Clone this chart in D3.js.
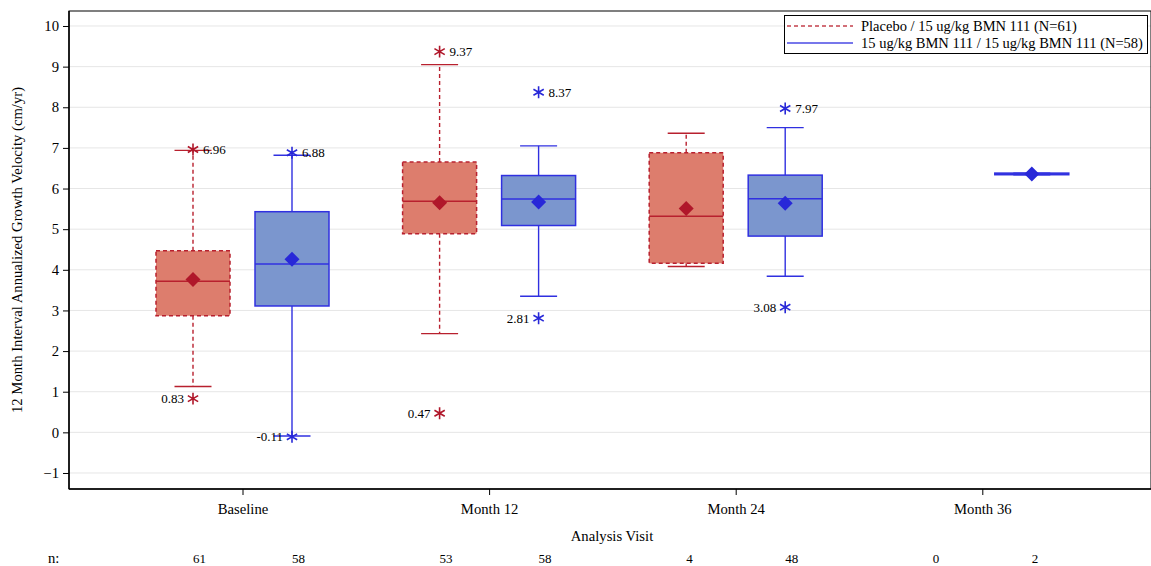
<!DOCTYPE html>
<html>
<head>
<meta charset="utf-8">
<script src="https://cdn.jsdelivr.net/npm/d3@7"></script>
<style>
  html, body { margin: 0; padding: 0; background: #fff; }
  svg { display: block; font-family: "Liberation Serif", "Times New Roman", serif; }
</style>
</head>
<body>
<svg id="chart" width="1151" height="566"></svg>
<script>
// Visits and treatment groups
const visits = ["Baseline", "Month 12", "Month 24", "Month 36"];
const groups = [
  "Placebo / 15 ug/kg BMN 111 (N=61)",
  "15 ug/kg BMN 111 / 15 ug/kg BMN 111 (N=58)"
];

// Box statistics per visit (cm/yr); null = no subjects
const placeboLow    = [1.13, 2.43, 4.08, null];
const placeboQ1     = [2.87, 4.89, 4.16, null];
const placeboMedian = [3.72, 5.69, 5.32, null];
const placeboQ3     = [4.47, 6.65, 6.88, null];
const placeboHigh   = [6.94, 9.05, 7.36, null];
const placeboMean   = [3.76, 5.65, 5.51, null];

const activeLow     = [-0.09, 3.35, 3.84, 6.34];
const activeQ1      = [3.11, 5.09, 4.83, 6.34];
const activeMedian  = [4.14, 5.74, 5.75, 6.36];
const activeQ3      = [5.43, 6.32, 6.33, 6.38];
const activeHigh    = [6.82, 7.05, 7.50, 6.38];
const activeMean    = [4.26, 5.67, 5.64, 6.36];

// Labelled extreme values: [visit index, value]
const placeboExtremes = [[0, 6.96], [0, 0.83], [1, 9.37], [1, 0.47]];
const activeExtremes  = [[0, 6.88], [0, -0.11], [1, 8.37], [1, 2.81], [2, 7.97], [2, 3.08]];

// Subjects per visit
const placeboN = [61, 53, 4, 0];
const activeN  = [58, 58, 48, 2];

const yTicks = [-1, 0, 1, 2, 3, 4, 5, 6, 7, 8, 9, 10];

const series = [
  { name: groups[0], low: placeboLow, q1: placeboQ1, med: placeboMedian, q3: placeboQ3, high: placeboHigh,
    mean: placeboMean, extremes: placeboExtremes, n: placeboN,
    fill: "#DD7D6D", stroke: "#B8202E", meanColor: "#B0172A", legendColor: "#C4404C", dash: "4,3" },
  { name: groups[1], low: activeLow, q1: activeQ1, med: activeMedian, q3: activeQ3, high: activeHigh,
    mean: activeMean, extremes: activeExtremes, n: activeN,
    fill: "#7B96CE", stroke: "#3030E0", meanColor: "#2828D8", legendColor: "#4A4AE4", dash: null }
];

const svg = d3.select("#chart");
const plot = { left: 69, top: 11, right: 1151, bottom: 489 };
const axisFont = 14.7;

const x = d3.scalePoint().domain(visits).range([242.5, 982.3]);
const offset = d3.scalePoint().domain(groups).range([-49.5, 49.5]);
const y = d3.scaleLinear().domain([-1.394, 10.369]).range([plot.bottom, plot.top]);

const boxW = 74, capW = 37;

// Gridlines
svg.append("g").selectAll("line").data(yTicks).join("line")
  .attr("x1", plot.left).attr("x2", plot.right)
  .attr("y1", d => y(d)).attr("y2", d => y(d))
  .attr("stroke", "#E6E6E6").attr("stroke-width", 1);

// Boxes
series.forEach(s => {
  const g = svg.append("g");
  visits.forEach((v, i) => {
    if (s.q1[i] == null) return;
    const cx = x(v) + offset(s.name);
    const dash = s.dash;
    // whiskers
    g.append("line").attr("x1", cx).attr("x2", cx).attr("y1", y(s.q3[i])).attr("y2", y(s.high[i]))
      .attr("stroke", s.stroke).attr("stroke-width", 1.4).attr("stroke-dasharray", dash);
    g.append("line").attr("x1", cx).attr("x2", cx).attr("y1", y(s.q1[i])).attr("y2", y(s.low[i]))
      .attr("stroke", s.stroke).attr("stroke-width", 1.4).attr("stroke-dasharray", dash);
    // caps
    [s.high[i], s.low[i]].forEach(val => {
      g.append("line").attr("x1", cx - capW / 2).attr("x2", cx + capW / 2)
        .attr("y1", y(val)).attr("y2", y(val))
        .attr("stroke", s.stroke).attr("stroke-width", 1.4);
    });
    // box
    g.append("rect").attr("x", cx - boxW / 2).attr("width", boxW)
      .attr("y", y(s.q3[i])).attr("height", Math.max(0.5, y(s.q1[i]) - y(s.q3[i])))
      .attr("fill", s.fill).attr("stroke", s.stroke).attr("stroke-width", 1.5)
      .attr("stroke-dasharray", dash);
    // median
    g.append("line").attr("x1", cx - boxW / 2).attr("x2", cx + boxW / 2)
      .attr("y1", y(s.med[i])).attr("y2", y(s.med[i]))
      .attr("stroke", s.stroke).attr("stroke-width", 1.5);
    // mean diamond
    const my = y(s.mean[i]);
    g.append("path")
      .attr("d", `M${cx},${my - 7.5}L${cx + 7.5},${my}L${cx},${my + 7.5}L${cx - 7.5},${my}Z`)
      .attr("fill", s.meanColor);
  });

  // extreme values with labels
  const star = d3.symbol().type(d3.symbolAsterisk).size(100);
  s.extremes.forEach(([i, val]) => {
    const cx = x(visits[i]) + offset(s.name);
    const cy = y(val);
    g.append("path").attr("d", star()).attr("transform", `translate(${cx},${cy})`)
      .attr("fill", "none").attr("stroke", s.meanColor).attr("stroke-width", 1.6);
    const upper = val > s.med[i];
    g.append("text")
      .attr("x", upper ? cx + 10 : cx - 9).attr("y", cy + 4.5)
      .attr("text-anchor", upper ? "start" : "end")
      .attr("font-size", 13).attr("fill", "#000")
      .text(val.toFixed(2));
  });
});

// Frame
svg.append("rect").attr("x", plot.left).attr("y", plot.top)
  .attr("width", plot.right - plot.left).attr("height", plot.bottom - plot.top)
  .attr("fill", "none").attr("stroke", "#000").attr("stroke-width", 1);

// Y axis
const yAxis = svg.append("g").attr("transform", `translate(${plot.left},0)`)
  .call(d3.axisLeft(y).tickValues(yTicks).tickSize(6).tickPadding(4).tickFormat(d3.format("d")));
yAxis.attr("font-family", null);
yAxis.select(".domain").attr("stroke", "#000").attr("stroke-width", 1.5)
  .attr("d", `M0,${plot.top}V${plot.bottom}`);
yAxis.selectAll("text").attr("font-size", axisFont).attr("fill", "#000");

// X axis
const xAxis = svg.append("g").attr("transform", `translate(0,${plot.bottom})`)
  .call(d3.axisBottom(x).tickSize(6).tickPadding(9));
xAxis.attr("font-family", null);
xAxis.select(".domain").attr("stroke", "#000").attr("stroke-width", 1.5)
  .attr("d", `M${plot.left},0H${plot.right}`);
xAxis.selectAll("text").attr("font-size", axisFont).attr("fill", "#000");

// Axis titles
svg.append("text").attr("x", 612).attr("y", 541)
  .attr("text-anchor", "middle").attr("font-size", axisFont).text("Analysis Visit");
svg.append("text")
  .attr("transform", `translate(22,${(plot.top + plot.bottom) / 2}) rotate(-90)`)
  .attr("text-anchor", "middle").attr("font-size", axisFont)
  .text("12 Month Interval Annualized Growth Velocity (cm/yr)");

// Subject counts
svg.append("text").attr("x", 48).attr("y", 563).attr("font-size", axisFont).text("n:");
series.forEach(s => {
  svg.append("g").selectAll("text").data(visits).join("text")
    .attr("x", v => x(v) + offset(s.name)).attr("y", 563)
    .attr("font-size", 13).text((v, i) => s.n[i]);
});

// Legend
const lg = svg.append("g");
lg.append("rect").attr("x", 784.5).attr("y", 15.5).attr("width", 363).attr("height", 38)
  .attr("fill", "#fff").attr("stroke", "#000").attr("stroke-width", 1);
series.forEach((s, k) => {
  const ly = 26 + k * 17;
  lg.append("line").attr("x1", 787).attr("x2", 853).attr("y1", ly).attr("y2", ly)
    .attr("stroke", s.legendColor).attr("stroke-width", 1.3).attr("stroke-dasharray", s.dash);
  lg.append("text").attr("x", 861).attr("y", ly + 5).attr("font-size", 14.5).text(s.name);
});
</script>
</body>
</html>
